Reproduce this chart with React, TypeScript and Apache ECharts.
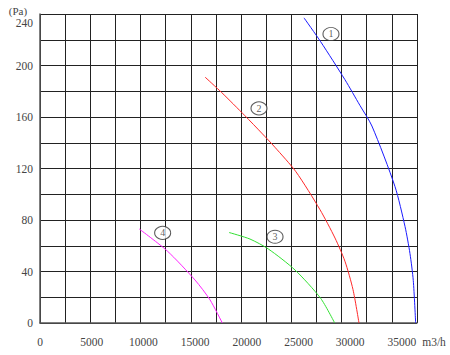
import React, { useEffect, useRef } from "react";
import * as echarts from "echarts";

// Fan curves: airflow (m3/h) vs static pressure (Pa)
const curve1Flow = [25530, 27140, 29490, 30940, 32100, 34330, 35300, 35780, 36100, 36330];
const curve1Pressure = [237, 218.5, 189, 169, 153, 106, 75, 54, 33, 0];

const curve2Flow = [15960, 17570, 19820, 21440, 22720, 24750, 27080, 28530, 29490, 30270, 30850];
const curve2Pressure = [191, 179, 161, 147.5, 136.5, 117.5, 88, 66, 48, 26, 0];

const curve3Flow = [18280, 20310, 22080, 24660, 27140, 28500];
const curve3Pressure = [70.3, 65.2, 57.5, 41.2, 19.2, 0];

const curve4Flow = [9600, 12300, 14990, 16440, 17630];
const curve4Pressure = [73, 56, 33.4, 18, 0];

const curveLabels = ["1", "2", "3", "4"];
const labelFlow = [28140, 21180, 22730, 11860];
const labelPressure = [224.5, 166.7, 67, 70];

const xTickLabels = [0, 5000, 10000, 15000, 20000, 25000, 30000, 35000];
const yTickLabels = [0, 40, 80, 120, 160, 200, 240];

const X_MAX = 36460;
const Y_MAX = 240;
const GRID_COLUMNS = 15;

const FONT = "Liberation Serif";

const zip = (a: number[], b: number[]) => a.map((v, i) => [v, b[i]]);

export default function App() {
  const ref = useRef<HTMLDivElement>(null);
  useEffect(() => {
    document.body.style.margin = "0";
    if (!ref.current) return;
    const chart = echarts.init(ref.current, undefined, { renderer: "svg" });
    const lineStyleGrid = { color: "#222", width: 1 };
    chart.setOption({
      animation: false,
      backgroundColor: "#fff",
      grid: { left: 40, right: 33, top: 14, bottom: 32 },
      xAxis: [
        {
          type: "value",
          min: 0,
          max: X_MAX,
          interval: 5000,
          position: "bottom",
          axisLine: { show: true, lineStyle: { color: "#555", width: 1.5 } },
          axisTick: { show: false },
          splitLine: { show: false },
          axisLabel: {
            color: "#444",
            fontFamily: FONT,
            fontSize: 11.5,
            margin: 13,
            showMaxLabel: false,
            formatter: (v: number) => (xTickLabels.includes(v) ? String(v) : ""),
          },
        },
        {
          type: "value",
          min: 0,
          max: GRID_COLUMNS,
          interval: 1,
          position: "top",
          axisLine: { show: false },
          axisTick: { show: false },
          axisLabel: { show: false },
          splitLine: { show: true, lineStyle: lineStyleGrid },
        },
      ],
      yAxis: {
        type: "value",
        min: 0,
        max: Y_MAX,
        interval: 20,
        axisLine: { show: true, lineStyle: { color: "#555", width: 1.5 } },
        axisTick: { show: false },
        splitLine: { show: true, lineStyle: lineStyleGrid },
        axisLabel: {
          color: "#444",
          fontFamily: FONT,
          fontSize: 11.5,
          margin: 7,
          formatter: (v: number) =>
            yTickLabels.includes(v) ? (v === 240 ? "{t|240}" : String(v)) : "",
          rich: { t: { padding: [18, 0, 0, 0], fontFamily: FONT, fontSize: 11.5, color: "#444" } },
        },
      },
      graphic: [
        {
          type: "text",
          x: 18,
          y: 11,
          style: { text: "(Pa)", fill: "#444", font: `11px "${FONT}"`, align: "center", verticalAlign: "middle" },
        },
        {
          type: "text",
          x: 434,
          y: 342,
          style: { text: "m3/h", fill: "#444", font: `11.5px "${FONT}"`, align: "center", verticalAlign: "middle" },
        },
      ],
      series: [
        { type: "line", data: zip(curve1Flow, curve1Pressure), smooth: 0.25, symbol: "none", lineStyle: { color: "#1a1aff", width: 1 }, z: 3 },
        { type: "line", data: zip(curve2Flow, curve2Pressure), smooth: 0.25, symbol: "none", lineStyle: { color: "#ff2a2a", width: 1 }, z: 3 },
        { type: "line", data: zip(curve3Flow, curve3Pressure), smooth: 0.25, symbol: "none", lineStyle: { color: "#33e033", width: 1 }, z: 3 },
        { type: "line", data: zip(curve4Flow, curve4Pressure), smooth: 0.25, symbol: "none", lineStyle: { color: "#ff22ff", width: 1 }, z: 3 },
        {
          type: "scatter",
          data: labelFlow.map((x, i) => ({ value: [x, labelPressure[i]], name: curveLabels[i] })),
          symbol: "circle",
          symbolSize: [16, 13],
          itemStyle: { color: "#fff", borderColor: "#333", borderWidth: 1 },
          label: {
            show: true,
            position: "inside",
            formatter: (p: any) => p.name,
            color: "#333",
            fontFamily: FONT,
            fontSize: 10,
          },
          z: 4,
        },
      ],
    });
    return () => chart.dispose();
  }, []);
  return <div ref={ref} style={{ width: 450, height: 355 }} />;
}
